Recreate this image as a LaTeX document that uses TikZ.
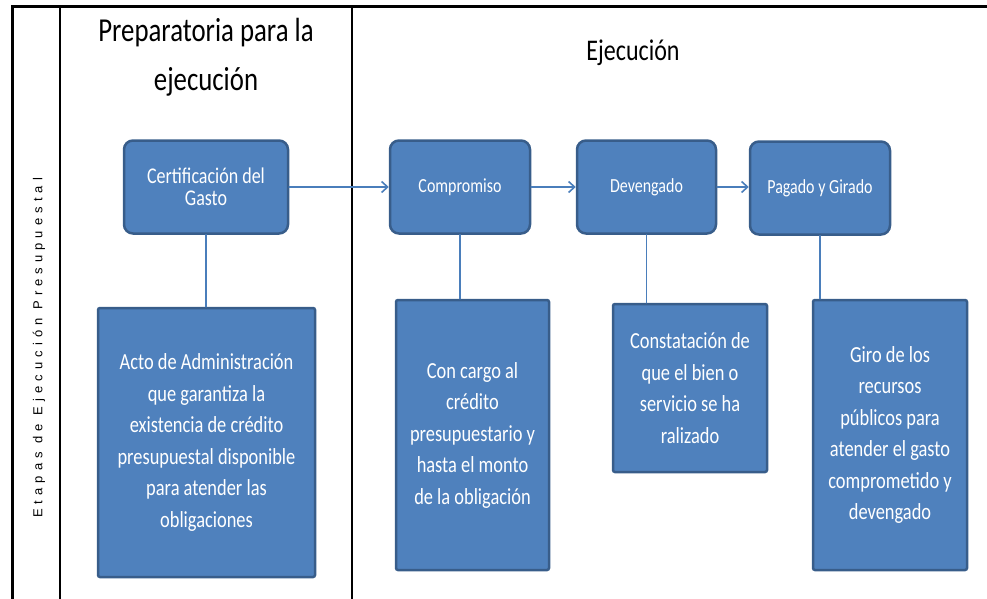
\documentclass[tikz,border=0pt]{standalone}
\usepackage{fontspec}
\setmainfont[FakeStretch=0.8]{Carlito}
\newfontfamily\espaciada[LetterSpace=39]{Liberation Sans}
\usetikzlibrary{arrows.meta}

\definecolor{azulcaja}{HTML}{4F81BD}
\definecolor{bordecaja}{HTML}{385D8A}
\definecolor{azullinea}{HTML}{4A7EBB}

\begin{document}
\begin{tikzpicture}[x=1pt,y=-1pt,cap=round,>={Straight Barb[length=6pt,width=11pt]},
		etapa/.style={draw=bordecaja,fill=azulcaja,line width=2.5pt,rounded corners=9pt,
			text=white,align=center,font=\fontsize{20}{22}\selectfont,minimum height=93pt},
		detalle/.style={draw=bordecaja,fill=azulcaja,line width=2.5pt,rounded corners=2pt,
			text=white,align=center,font=\fontsize{23}{31.5}\selectfont},
		enlace/.style={draw=azullinea,line width=1.6pt},
		titulo/.style={align=center,font=\fontsize{30}{49}\selectfont}]
		\useasboundingbox (0,0) rectangle (987,599);

		% draw the frame
		\draw[line width=2.5pt,cap=butt] (987,6.5) -- (12.5,6.5) -- (12.5,599);
		\draw[line width=2pt,cap=butt] (59.5,6.5) -- (59.5,599);
		\draw[line width=2pt,cap=butt] (352,6.5) -- (352,599);

		% draw the titles
		\node[rotate=90,font=\espaciada\fontsize{13}{15}\selectfont] (etapas) at (39,348) {Etapas de Ejecución Presupuestal};
		\node[titulo,font=\fontsize{33.5}{49}\selectfont] (prep) at (206,57.5) {Preparatoria para la\\ejecución};
		\node[titulo] (ejec) at (633,53) {Ejecución};

		% draw the stages
		\node[etapa,minimum width=164pt,font=\fontsize{22.5}{22}\selectfont] (cert) at (206,187) {Certificación del\\Gasto};
		\node[etapa,minimum width=140pt] (comp) at (460,187) {Compromiso};
		\node[etapa,minimum width=139pt] (dev) at (646.5,187) {Devengado};
		\node[etapa,minimum width=140pt] (pag) at (820,188) {Pagado y Girado};

		% draw the details below each stage
		\node[detalle,minimum width=217pt,minimum height=269pt] (acto) at (206.5,442.5)
			{Acto de Administración\\que garantiza la\\existencia de crédito\\presupuestal disponible\\para atender las\\obligaciones};
		\node[detalle,minimum width=153pt,minimum height=270pt] (cargo) at (472.5,435)
			{Con cargo al\\crédito\\presupuestario y\\hasta el monto\\de la obligación};
		\node[detalle,minimum width=154pt,minimum height=168pt] (const) at (690,388)
			{Constatación de\\que el bien o\\servicio se ha\\ralizado};
		\node[detalle,minimum width=154pt,minimum height=270pt] (giro) at (890,435)
			{Giro de los\\recursos\\públicos para\\atender el gasto\\comprometido y\\devengado};

		% arrows between the stages
		\foreach \a/\b in {cert/comp,comp/dev,dev/pag}
			\draw[enlace,->] (\a.east) -- (\a.east -| \b.west);

		% lines from each stage to its detail
		\foreach \a/\b in {cert/acto,comp/cargo,dev/const,pag/giro}
			\draw[enlace] (\a.south) -- (\a.south |- \b.north);
	\end{tikzpicture}
\end{document}
